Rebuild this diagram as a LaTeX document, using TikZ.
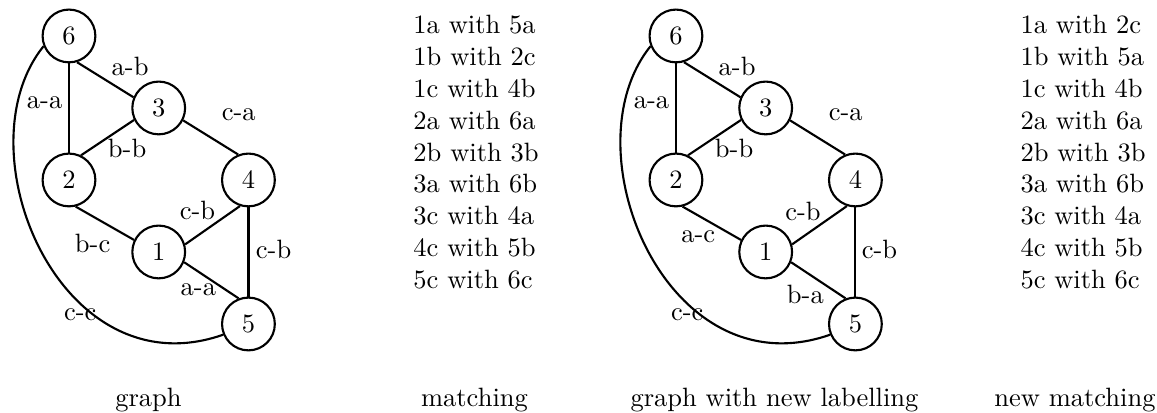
\documentclass[tikz,border=0pt]{standalone}
\tikzset{
  vertex/.style={draw, circle, thick, minimum size=7mm, inner sep=0pt},
  edge/.style={thick},
  edge label/.style={inner sep=0pt},
  match list/.style={align=left, anchor=north west, inner sep=0pt},
  caption/.style={anchor=base},
}

\begin{document}
\begin{tikzpicture}
  \useasboundingbox (-0.915,-1.180) rectangle (14.430,4.297);
  % graph
  \begin{scope}[x=1.19cm, y=0.955cm]
    \node[vertex] (a6) at (0,4) {6};
    \node[vertex] (a3) at (1,3) {3};
    \node[vertex] (a2) at (0,2) {2};
    \node[vertex] (a4) at (2,2) {4};
    \node[vertex] (a1) at (1,1) {1};
    \node[vertex] (a5) at (2,0) {5};
    \draw[edge] (a6.287) -- node[edge label, xshift=9.4pt, yshift=5pt] {a-b} (a3.157);
    \draw[edge] (a6.270) -- node[edge label, xshift=-9.2pt, yshift=1.8pt] {a-a} (a2.90);
    \draw[edge] (a2.64) -- node[edge label, xshift=7.4pt, yshift=-4.1pt] {b-b} (a3.206);
    \draw[edge] (a3.333) -- node[edge label, xshift=10.6pt, yshift=8.5pt] {c-a} (a4.112);
    \draw[edge] (a2.284) -- node[edge label, xshift=-4.6pt, yshift=-7.7pt] {b-c} (a1.154);
    \draw[edge] (a1.16) -- node[edge label, xshift=-5.7pt, yshift=5.7pt] {c-b} (a4.252);
    \draw[edge] (a4.270) -- node[edge label, xshift=9.5pt, yshift=0.9pt] {c-b} (a5.90);
    \draw[edge] (a1.338) -- node[edge label, xshift=-4.9pt, yshift=-3.5pt] {a-a} (a5.111);
    \draw[edge] (a6.202) .. controls (-1.215,2.417) and (-0.1,-0.944) .. node[edge label, pos=0.65, yshift=-4.3pt] {c-c} (a5.203);
  \end{scope}
  % graph with new labelling
  \begin{scope}[x=1.19cm, y=0.955cm, xshift=8.05cm]
    \node[vertex] (b6) at (0,4) {6};
    \node[vertex] (b3) at (1,3) {3};
    \node[vertex] (b2) at (0,2) {2};
    \node[vertex] (b4) at (2,2) {4};
    \node[vertex] (b1) at (1,1) {1};
    \node[vertex] (b5) at (2,0) {5};
    \draw[edge] (b6.287) -- node[edge label, xshift=9.4pt, yshift=5pt] {a-b} (b3.157);
    \draw[edge] (b6.270) -- node[edge label, xshift=-9.2pt, yshift=1.8pt] {a-a} (b2.90);
    \draw[edge] (b2.64) -- node[edge label, xshift=7.4pt, yshift=-4.1pt] {b-b} (b3.206);
    \draw[edge] (b3.333) -- node[edge label, xshift=10.6pt, yshift=8.5pt] {c-a} (b4.112);
    \draw[edge] (b2.284) -- node[edge label, xshift=-5.1pt, yshift=-5.1pt] {a-c} (b1.154);
    \draw[edge] (b1.16) -- node[edge label, xshift=-6.2pt, yshift=5.2pt] {c-b} (b4.252);
    \draw[edge] (b4.270) -- node[edge label, xshift=9.1pt, yshift=0.9pt] {c-b} (b5.90);
    \draw[edge] (b1.338) -- node[edge label, xshift=-4.9pt, yshift=-5.5pt] {b-a} (b5.111);
    \draw[edge] (b6.202) .. controls (-1.215,2.417) and (-0.1,-0.944) .. node[edge label, pos=0.65, yshift=-4.3pt] {c-c} (b5.203);
  \end{scope}
  % matchings
  \node[match list] (m1) at (4.562,4.099) {1a with 5a\\1b with 2c\\1c with 4b\\2a with 6a\\2b with 3b\\3a with 6b\\3c with 4a\\4c with 5b\\5c with 6c};
  \node[match list] (m2) at (12.613,4.099) {1a with 2c\\1b with 5a\\1c with 4b\\2a with 6a\\2b with 3b\\3a with 6b\\3c with 4a\\4c with 5b\\5c with 6c};
  % captions
  \node[caption] (c1) at (1.054,-1.10) {graph};
  \node[caption] (c2) at (5.378,-1.10) {matching};
  \node[caption] (c3) at (9.357,-1.10) {graph with new labelling};
  \node[caption] (c4) at (13.342,-1.10) {new matching};
\end{tikzpicture}
\end{document}
